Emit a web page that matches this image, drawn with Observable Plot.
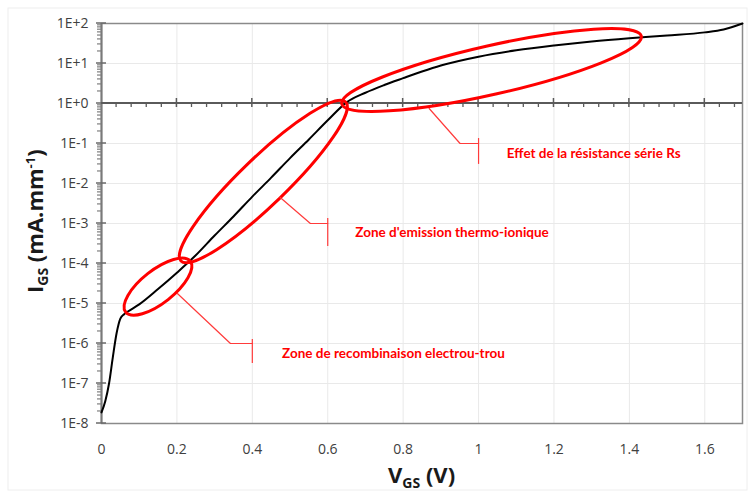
<!DOCTYPE html>
<html><head><meta charset="utf-8">
<script src="https://cdn.jsdelivr.net/npm/d3@7"></script>
<script src="https://cdn.jsdelivr.net/npm/@observablehq/plot@0.6"></script>
<style>body{margin:0;background:#fff;} #chart{width:750px;height:496px;}</style>
</head><body><div id="chart"></div>
<script>
// I_GS(V_GS) curve (mA/mm)
const vgs = [0, 0.01, 0.02, 0.03, 0.04, 0.05, 0.06, 0.07, 0.1, 0.15, 0.2, 0.25, 0.3, 0.35, 0.4, 0.45, 0.5, 0.55, 0.6, 0.65, 0.7, 0.75, 0.8, 0.85, 0.9, 1.0, 1.1, 1.2, 1.3, 1.4, 1.5, 1.6, 1.65, 1.7];
const igs = [1.9e-8, 3.6e-8, 1.0e-7, 4.5e-7, 1.8e-6, 4.2e-6, 5.4e-6, 6.3e-6, 9.5e-6, 2.3e-5, 5.9e-5, 1.6e-4, 5.0e-4, 1.5e-3, 4.7e-3, 1.4e-2, 4.3e-2, 0.126, 0.38, 1.07, 1.86, 2.9, 4.3, 6.3, 8.9, 14.8, 21.4, 28.2, 35.5, 42.7, 50, 60, 71, 100];

// axes
const xTicks = [0, 0.2, 0.4, 0.6, 0.8, 1.0, 1.2, 1.4, 1.6];
const xTickLabels = ["0", "0.2", "0.4", "0.6", "0.8", "1", "1.2", "1.4", "1.6"];
const yTicks = [1e-8, 1e-7, 1e-6, 1e-5, 1e-4, 1e-3, 1e-2, 1e-1, 1e0, 1e1, 1e2];
const yTickLabels = ["1E-8", "1E-7", "1E-6", "1E-5", "1E-4", "1E-3", "1E-2", "1E-1", "1E+0", "1E+1", "1E+2"];

// highlighted zones (ellipses): centre, end of long axis, end of short axis
const ellipseCenterV = [0.151, 0.4305, 1.0358];
const ellipseCenterI = [2.57e-5, 1.09e-2, 6.68];
const ellipseAxisV = [0.2366, 0.649, 1.433];
const ellipseAxisI = [1.11e-4, 1.06, 47.3];
const ellipseSideV = [0.1799, 0.4736, 1.050];
const ellipseSideI = [1.26e-5, 4.12e-3, 1.70];

// callouts
const zoneLabels = ["Zone de recombinaison electrou-trou", "Zone d'emission thermo-ionique", "Effet de la résistance série Rs"];
const leaderStartV = [0.2013, 0.474, 0.869];
const leaderStartI = [1.78e-5, 4.47e-3, 0.75];
const leaderElbowV = [0.342, 0.554, 0.951];
const leaderElbowI = [1e-6, 1e-3, 0.1];
const leaderBarV = [0.4, 0.6, 1.0];
const leaderBarTopI = [1.26e-6, 1.33e-3, 0.133];
const leaderBarBottomI = [3.16e-7, 2.66e-4, 0.03];
const labelV = [0.479, 0.673, 1.075];
const labelI = [5.6e-7, 6.0e-4, 0.056];

const curve = vgs.map((v, k) => ({v, i: igs[k]}));
const idx = zoneLabels.map((_, k) => k);
const leaders = idx.flatMap(k => [
  {k, v: leaderStartV[k], i: leaderStartI[k]},
  {k, v: leaderElbowV[k], i: leaderElbowI[k]},
  {k, v: leaderBarV[k], i: leaderElbowI[k]}
]);
const xMinor = d3.range(1, 43).map(k => +(k * 0.04).toFixed(2)).filter(t => Math.abs(t / 0.2 - Math.round(t / 0.2)) > 1e-6);
const yMinor = d3.range(-8, 2).flatMap(e => d3.range(2, 10).map(m => m * Math.pow(10, e)));

function ticksMark(index, {x, y}) {
  const g = d3.create("svg:g");
  const x0 = x(0), yOne = y(1);
  g.append("g").attr("stroke", "#7f7f7f").attr("stroke-width", 1.2)
    .selectAll("line").data(yMinor).join("line")
    .attr("x1", x0 - 4).attr("x2", x0).attr("y1", d => y(d)).attr("y2", d => y(d));
  g.append("g").attr("stroke", "#6a6a6a").attr("stroke-width", 1.5)
    .selectAll("line").data(yTicks).join("line")
    .attr("x1", x0 - 5).attr("x2", x0 + 5).attr("y1", d => y(d)).attr("y2", d => y(d));
  g.append("line").attr("x1", x(0)).attr("x2", x(1.7)).attr("y1", yOne).attr("y2", yOne)
    .attr("stroke", "#5a5a5a").attr("stroke-width", 2);
  g.append("g").attr("stroke", "#5a5a5a").attr("stroke-width", 1.3)
    .selectAll("line").data(xMinor).join("line")
    .attr("x1", d => x(d)).attr("x2", d => x(d)).attr("y1", yOne).attr("y2", yOne + 4);
  g.append("g").attr("stroke", "#5a5a5a").attr("stroke-width", 1.5)
    .selectAll("line").data(xTicks.slice(1)).join("line")
    .attr("x1", d => x(d)).attr("x2", d => x(d)).attr("y1", yOne - 5).attr("y2", yOne + 4);
  return g.node();
}

function ellipsesMark(index, {x, y}) {
  const g = d3.create("svg:g").attr("fill", "none").attr("stroke", "#ff0000").attr("stroke-width", 3);
  ellipseCenterV.forEach((cv, k) => {
    const cx = x(cv), cy = y(ellipseCenterI[k]);
    const ax = x(ellipseAxisV[k]), ay = y(ellipseAxisI[k]);
    const bx = x(ellipseSideV[k]), by = y(ellipseSideI[k]);
    const rx = Math.hypot(ax - cx, ay - cy), ry = Math.hypot(bx - cx, by - cy);
    const ang = Math.atan2(ay - cy, ax - cx) * 180 / Math.PI;
    g.append("ellipse").attr("cx", cx).attr("cy", cy).attr("rx", rx).attr("ry", ry)
      .attr("transform", `rotate(${ang} ${cx} ${cy})`);
  });
  return g.node();
}

const svg = Plot.plot({
  width: 750,
  height: 496,
  marginLeft: 101,
  marginRight: 8,
  marginTop: 23,
  marginBottom: 73,
  style: {fontFamily: "'Open Sans', sans-serif", fontSize: "14px", color: "#404040", background: "white", overflow: "visible"},
  x: {domain: [0, 1.7]},
  y: {type: "log", domain: [1e-8, 1e2]},
  marks: [
    Plot.ruleY(yTicks.slice(1, -1), {stroke: "#e9e9e9", strokeWidth: 1}),
    Plot.ruleX(xTicks.slice(1), {stroke: "#e9e9e9", strokeWidth: 1}),
    Plot.frame({stroke: "#8a8a8a", strokeWidth: 1.5}),
    Plot.ruleX([0], {stroke: "#7a7a7a", strokeWidth: 2}),
    Plot.axisY({ticks: yTicks, tickFormat: d => yTickLabels[yTicks.findIndex(t => Math.abs(Math.log10(t) - Math.log10(d)) < 1e-6)], tickSize: 0, tickPadding: 13, label: null, fontSize: 14}),
    Plot.axisX({ticks: xTicks, tickFormat: d => xTickLabels[xTicks.findIndex(t => Math.abs(t - d) < 1e-6)], tickSize: 0, tickPadding: 21, label: null, fontSize: 14}),
    ticksMark,
    Plot.line(curve, {x: "v", y: "i", stroke: "#000", strokeWidth: 2, curve: "monotone-x"}),
    ellipsesMark,
    Plot.line(leaders, {x: "v", y: "i", z: "k", stroke: "#ff3b3b", strokeWidth: 1.2}),
    Plot.ruleX(idx, {x: k => leaderBarV[k], y1: k => leaderBarTopI[k], y2: k => leaderBarBottomI[k], stroke: "#ff3b3b", strokeWidth: 1.2}),
    Plot.text(idx, {x: k => labelV[k], y: k => labelI[k], text: k => zoneLabels[k], textAnchor: "start", fill: "#ff0000", fontWeight: "bold", fontSize: 13.5, fontFamily: "Lato"})
  ]
});

const s = d3.select(svg);
s.insert("rect", ":first-child").attr("x", 8).attr("y", 8).attr("width", 739).attr("height", 482)
  .attr("fill", "none").attr("stroke", "#eeeeee");
// x title
const xt = s.append("text").attr("x", 388).attr("y", 483).attr("fill", "#1a1a1a").attr("text-anchor", "start")
  .attr("font-family", "'Open Sans', sans-serif").attr("font-weight", "bold").attr("font-size", 22);
xt.append("tspan").text("V");
xt.append("tspan").attr("font-size", 14).attr("dy", 5).text("GS");
xt.append("tspan").attr("dy", -5).text(" (V)");
// y title
const yt = s.append("text").attr("transform", "translate(43,293) rotate(-90)").attr("fill", "#1a1a1a").attr("text-anchor", "start")
  .attr("font-family", "'Open Sans', sans-serif").attr("font-weight", "bold").attr("font-size", 22);
yt.append("tspan").text("I");
yt.append("tspan").attr("font-size", 14).attr("dy", 5).text("GS");
yt.append("tspan").attr("dy", -5).text(" (mA.mm");
yt.append("tspan").attr("font-size", 13).attr("dy", -8).text("-1");
yt.append("tspan").attr("dy", 8).text(")");

document.getElementById("chart").appendChild(svg);
</script>
</body></html>
